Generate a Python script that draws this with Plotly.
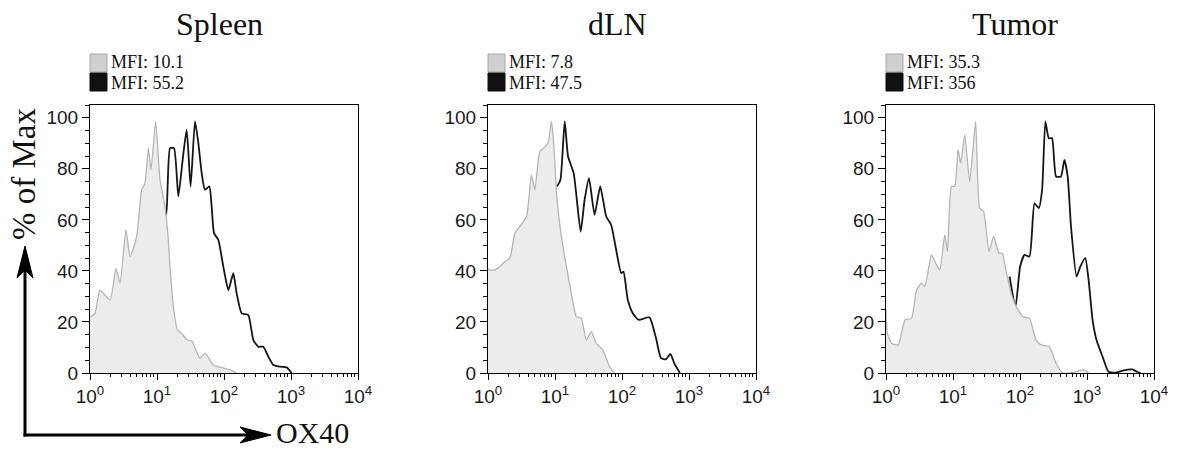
import numpy as np
import plotly.graph_objects as go

W, H = 1185, 450

# ---------------- data ----------------
panel_titles = ["Spleen", "dLN", "Tumor"]
mfi_ctrl = ["MFI: 10.1", "MFI: 7.8", "MFI: 35.3"]
mfi_ox40 = ["MFI: 55.2", "MFI: 47.5", "MFI: 356"]

# log10(OX40 intensity) and % of Max
spleen_ctrl_logx = [0.0, 0.075, 0.149, 0.30, 0.388, 0.448, 0.537, 0.597, 0.697, 0.771, 0.821, 0.871, 0.910,
                    0.980, 1.045, 1.119, 1.169, 1.194, 1.244, 1.303, 1.37, 1.45, 1.52, 1.64, 1.72, 1.84,
                    1.99, 2.09, 2.19]
spleen_ctrl_pct = [22.0, 23.4, 32.5, 28.6, 41.0, 35.2, 56.1, 45.6, 53.5, 71.8, 74.4, 88.1, 79.6,
                   98.6, 75.7, 65.2, 52.2, 41.7, 26.0, 17.0, 15.5, 13.0, 12.5, 5.8, 7.8, 3.1,
                   2.0, 1.2, 0.0]
spleen_ox40_logx = [1.060, 1.104, 1.134, 1.194, 1.254, 1.318, 1.383, 1.443, 1.502, 1.567, 1.617, 1.667,
                    1.716, 1.781, 1.816, 1.851, 1.915, 1.990, 2.065, 2.139, 2.189, 2.264, 2.363, 2.438,
                    2.512, 2.587, 2.662, 2.736, 2.836, 2.935, 3.01]
spleen_ox40_pct = [68.5, 62.0, 62.0, 88.1, 88.1, 69.2, 83.5, 95.3, 73.1, 98.6, 90.1, 78.3,
                   71.8, 73.1, 65.2, 54.8, 52.2, 41.7, 32.5, 39.1, 31.2, 23.4, 22.7, 12.9,
                   10.3, 10.3, 6.4, 3.1, 2.5, 2.2, 0.0]

dln_ctrl_logx = [0.0, 0.02, 0.104, 0.178, 0.253, 0.327, 0.401, 0.476, 0.575, 0.649, 0.699, 0.773, 0.833,
                 0.897, 0.947, 0.981, 1.031, 1.095, 1.170, 1.244, 1.318, 1.393, 1.467, 1.541, 1.616,
                 1.715, 1.814, 1.889]
dln_ctrl_pct = [41.0, 40.4, 40.4, 41.7, 43.7, 45.0, 54.8, 57.4, 61.3, 77.6, 71.8, 86.8, 88.1,
                90.1, 98.6, 89.4, 67.8, 53.5, 41.7, 31.2, 22.1, 21.4, 12.9, 16.2, 11.6,
                9.0, 2.5, 0.0]
dln_ox40_logx = [1.031, 1.081, 1.145, 1.195, 1.279, 1.383, 1.442, 1.507, 1.591, 1.675, 1.765, 1.839,
                 1.913, 1.988, 2.022, 2.087, 2.161, 2.250, 2.409, 2.508, 2.582, 2.657, 2.721, 2.781, 2.865]
dln_ox40_pct = [73.1, 75.7, 98.6, 84.8, 78.3, 55.4, 67.8, 76.3, 62.0, 73.1, 61.3, 58.0,
                48.2, 39.1, 39.7, 28.6, 23.4, 20.8, 21.8, 13.6, 5.8, 5.4, 7.5, 3.8, 0.0]

tumor_ctrl_logx = [0.0, 0.02, 0.084, 0.183, 0.283, 0.382, 0.456, 0.530, 0.580, 0.679, 0.753, 0.803, 0.877,
                   0.917, 0.976, 1.026, 1.076, 1.115, 1.175, 1.249, 1.338, 1.398, 1.457, 1.537, 1.606,
                   1.685, 1.735, 1.794, 1.869, 1.943, 2.042, 2.141, 2.240, 2.315, 2.439, 2.538, 2.637,
                   2.80, 2.934, 3.033]
tumor_ctrl_pct = [25.0, 15.6, 11.6, 11.0, 20.8, 21.4, 32.5, 35.2, 33.9, 46.3, 42.4, 40.4, 54.1,
                  47.6, 73.1, 73.1, 87.5, 82.2, 93.3, 75.0, 98.6, 64.6, 63.3, 47.6, 53.5,
                  46.9, 46.9, 39.7, 31.2, 26.0, 22.1, 21.4, 12.9, 11.0, 10.3, 3.8, 0.1,
                  0.3, 1.2, 0.0]
tumor_ox40_logx = [1.844, 1.933, 2.002, 2.067, 2.141, 2.216, 2.280, 2.330, 2.379, 2.429, 2.478, 2.538,
                   2.612, 2.662, 2.712, 2.761, 2.845, 2.900, 2.974, 3.024, 3.083, 3.142, 3.232, 3.321,
                   3.430, 3.53, 3.678, 3.752, 3.80]
tumor_ox40_pct = [37.8, 26.0, 41.7, 46.3, 45.6, 66.5, 64.6, 71.8, 98.6, 92.0, 92.0, 77.0,
                  77.0, 83.5, 77.0, 57.4, 37.8, 41.7, 45.0, 36.5, 20.8, 12.9, 6.4, 0.5,
                  0.1, 0.9, 1.4, 0.4, 0.0]

ctrl_series = [(spleen_ctrl_logx, spleen_ctrl_pct), (dln_ctrl_logx, dln_ctrl_pct), (tumor_ctrl_logx, tumor_ctrl_pct)]
ox40_series = [(spleen_ox40_logx, spleen_ox40_pct), (dln_ox40_logx, dln_ox40_pct), (tumor_ox40_logx, tumor_ox40_pct)]

x_tickvals = [1, 10, 100, 1000, 10000]
x_ticktext = ["10<sup>0</sup>", "10<sup>1</sup>", "10<sup>2</sup>", "10<sup>3</sup>", "10<sup>4</sup>"]
y_tickvals = [0, 20, 40, 60, 80, 100]
y_ticktext = ["0", "20", "40", "60", "80", "100"]

# ---------------- layout helpers ----------------
def fx(p):
    return p / W

def fy(p):
    return 1 - p / H

panel_left = [90, 488, 886]
panel_w = 268
plot_top, plot_bot = 105, 373

GRAY_FILL = "#ececec"
GRAY_LINE = "#b5b5b5"
BLACK = "#151515"
SERIF = "Liberation Serif, Times New Roman, serif"
SANS = "Liberation Sans, Arial, sans-serif"

minor_x = [m * 10 ** d for d in range(4) for m in range(2, 10)]

fig = go.Figure()
layout = dict(
    width=W, height=H, autosize=False,
    margin=dict(l=0, r=0, t=0, b=0, autoexpand=False),
    paper_bgcolor="white", plot_bgcolor="white",
    showlegend=False,
)

shapes = []
annotations = []

for i in range(3):
    xa = "x" if i == 0 else f"x{i+1}"
    ya = "y" if i == 0 else f"y{i+1}"
    # OX40 stained (black outline), drawn underneath
    lx, pv = ox40_series[i]
    fig.add_trace(go.Scatter(
        x=10 ** np.array(lx), y=pv, mode="lines",
        line=dict(color=BLACK, width=1.8, shape="spline", smoothing=0.5),
        xaxis=xa, yaxis=ya, hoverinfo="skip"))
    # control (gray filled), drawn on top
    lx, pv = ctrl_series[i]
    fig.add_trace(go.Scatter(
        x=10 ** np.array(lx), y=pv, mode="lines", fill="tozeroy", fillcolor=GRAY_FILL,
        line=dict(color=GRAY_LINE, width=1.3, shape="spline", smoothing=0.5),
        xaxis=xa, yaxis=ya, hoverinfo="skip"))

    l = panel_left[i]
    xkey = "xaxis" if i == 0 else f"xaxis{i+1}"
    ykey = "yaxis" if i == 0 else f"yaxis{i+1}"
    layout[xkey] = dict(
        type="log", range=[0, 4], domain=[fx(l), fx(l + panel_w)], anchor=ya,
        automargin=False,
        showline=True, linecolor="black", linewidth=1, mirror=True,
        ticks="outside", ticklen=6, tickwidth=1, tickcolor="black",
        tickvals=x_tickvals, ticktext=x_ticktext,
        tickfont=dict(family=SANS, size=19, color="#1a1a1a"),
        showgrid=False, zeroline=False,
        minor=dict(tickvals=minor_x, ticks="outside", ticklen=3, tickwidth=1,
                   tickcolor="black", showgrid=False),
    )
    layout[ykey] = dict(
        range=[0, 105], domain=[fy(plot_bot), fy(plot_top)], anchor=xa,
        automargin=False,
        showline=True, linecolor="black", linewidth=1, mirror=True,
        ticks="outside", ticklen=7, tickwidth=1, tickcolor="black",
        tickvals=y_tickvals, ticktext=y_ticktext,
        tickfont=dict(family=SANS, size=19, color="#1a1a1a"),
        showgrid=False, zeroline=False,
        minor=dict(dtick=5, ticks="outside", ticklen=4, tickwidth=1,
                   tickcolor="black", showgrid=False),
    )

    # panel title
    annotations.append(dict(
        text=panel_titles[i], x=fx(l + panel_w / 2 - 5), y=fy(24), xref="paper", yref="paper",
        xanchor="center", yanchor="middle", showarrow=False,
        font=dict(family=SERIF, size=32, color="#111")))
    # legend boxes
    shapes.append(dict(type="rect", xref="paper", yref="paper",
                       x0=fx(l), x1=fx(l + 17), y0=fy(72), y1=fy(54),
                       fillcolor="#cfcfcf", line=dict(color="#a8a8a8", width=1)))
    shapes.append(dict(type="rect", xref="paper", yref="paper",
                       x0=fx(l), x1=fx(l + 17), y0=fy(91), y1=fy(73),
                       fillcolor="#111111", line=dict(color="#111111", width=1)))
    annotations.append(dict(
        text=mfi_ctrl[i], x=fx(l + 19), y=fy(62.5), xref="paper", yref="paper",
        xanchor="left", yanchor="middle", showarrow=False,
        font=dict(family=SERIF, size=18, color="#111")))
    annotations.append(dict(
        text=mfi_ox40[i], x=fx(l + 19), y=fy(82.5), xref="paper", yref="paper",
        xanchor="left", yanchor="middle", showarrow=False,
        font=dict(family=SERIF, size=18, color="#111")))

# axis arrows
shapes.append(dict(type="line", xref="paper", yref="paper",
                   x0=fx(25), x1=fx(25), y0=fy(436.5), y1=fy(268),
                   line=dict(color="black", width=3)))
shapes.append(dict(type="line", xref="paper", yref="paper",
                   x0=fx(23.5), x1=fx(252), y0=fy(435), y1=fy(435),
                   line=dict(color="black", width=3)))
shapes.append(dict(type="path", xref="paper", yref="paper",
                   path=f"M {fx(25)} {fy(246)} L {fx(17)} {fy(278)} L {fx(25)} {fy(270)} L {fx(33)} {fy(278)} Z",
                   fillcolor="black", line=dict(color="black", width=1)))
shapes.append(dict(type="path", xref="paper", yref="paper",
                   path=f"M {fx(271)} {fy(435)} L {fx(240)} {fy(427)} L {fx(248)} {fy(435)} L {fx(240)} {fy(443)} Z",
                   fillcolor="black", line=dict(color="black", width=1)))

annotations.append(dict(
    text="% of Max", x=fx(24), y=fy(174), xref="paper", yref="paper",
    xanchor="center", yanchor="middle", showarrow=False, textangle=-90,
    font=dict(family=SERIF, size=33, color="#111")))
annotations.append(dict(
    text="OX40", x=fx(274), y=fy(432.5), xref="paper", yref="paper",
    xanchor="left", yanchor="middle", showarrow=False,
    font=dict(family=SERIF, size=30, color="#111")))

layout["shapes"] = shapes
layout["annotations"] = annotations
fig.update_layout(**layout)

fig.write_html("out.html", config={"displayModeBar": False},
               post_script="document.body.style.margin='0px';")
